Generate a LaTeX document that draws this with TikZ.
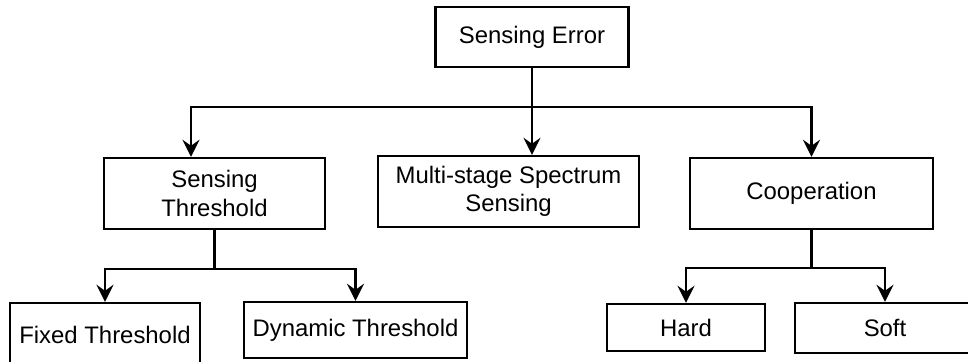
\documentclass[tikz,border=0pt]{standalone}
\usepackage{fontspec}
\setmainfont{Liberation Sans}
\usetikzlibrary{arrows.meta}

\begin{document}
\begin{tikzpicture}[x=0.02cm, y=0.02cm,
		box/.style={draw, line width=1.4pt, inner sep=0pt, align=center,
			font=\fontsize{13.6}{16}\selectfont},
		link/.style={line width=1.4pt},
		arr/.style={link, -{Stealth[length=0.34cm, width=0.34cm, inset=0.12cm]}}]
		\useasboundingbox (0,0) rectangle (968,362);
		\clip (0,0) rectangle (968,362);
		
		\node (err) [box, minimum width=3.86cm, minimum height=1.2cm] at (532,325) {Sensing Error};
		\node (thr) [box, minimum width=4.42cm, minimum height=1.42cm] at (214.5,168.5) {Sensing\\Threshold};
		\node (multi) [box, minimum width=5.22cm, minimum height=1.42cm] at (508.5,170.5) {Multi-stage Spectrum\\Sensing};
		\node (coop) [box, minimum width=4.86cm, minimum height=1.42cm] at (811.5,168.5) {Cooperation};
		\node (fixed) [box, minimum width=3.8cm, minimum height=1.26cm] at (105,27.5) {Fixed Threshold};
		\node (dyn) [box, minimum width=4.46cm, minimum height=1.12cm] at (355.5,32) {Dynamic Threshold};
		\node (hard) [box, minimum width=3.16cm, minimum height=0.94cm] at (686,34.5) {Hard};
		\node (soft) [box, minimum width=3.6cm, minimum height=1cm] at (885,34) {Soft};
		
		\coordinate (errsplit) at (532,255);
		\coordinate (thrsplit) at (214.5,93);
		\coordinate (coopsplit) at (811.5,94);
		
		\draw[arr] (err) -- (err |- multi.north);
		\draw[arr] (errsplit) -| ([xshift=-0.47cm]thr.north);
		\draw[arr] (errsplit) -| (coop.north);
		
		\draw[link] (thr) -- (thrsplit);
		\draw[arr] (thrsplit) -| (fixed.north);
		\draw[arr] (thrsplit) -| (dyn.north);
		
		\draw[link] (coop) -- (coopsplit);
		\draw[arr] (coopsplit) -| (hard.north);
		\draw[arr] (coopsplit) -| (soft.north);
	\end{tikzpicture}
\end{document}
